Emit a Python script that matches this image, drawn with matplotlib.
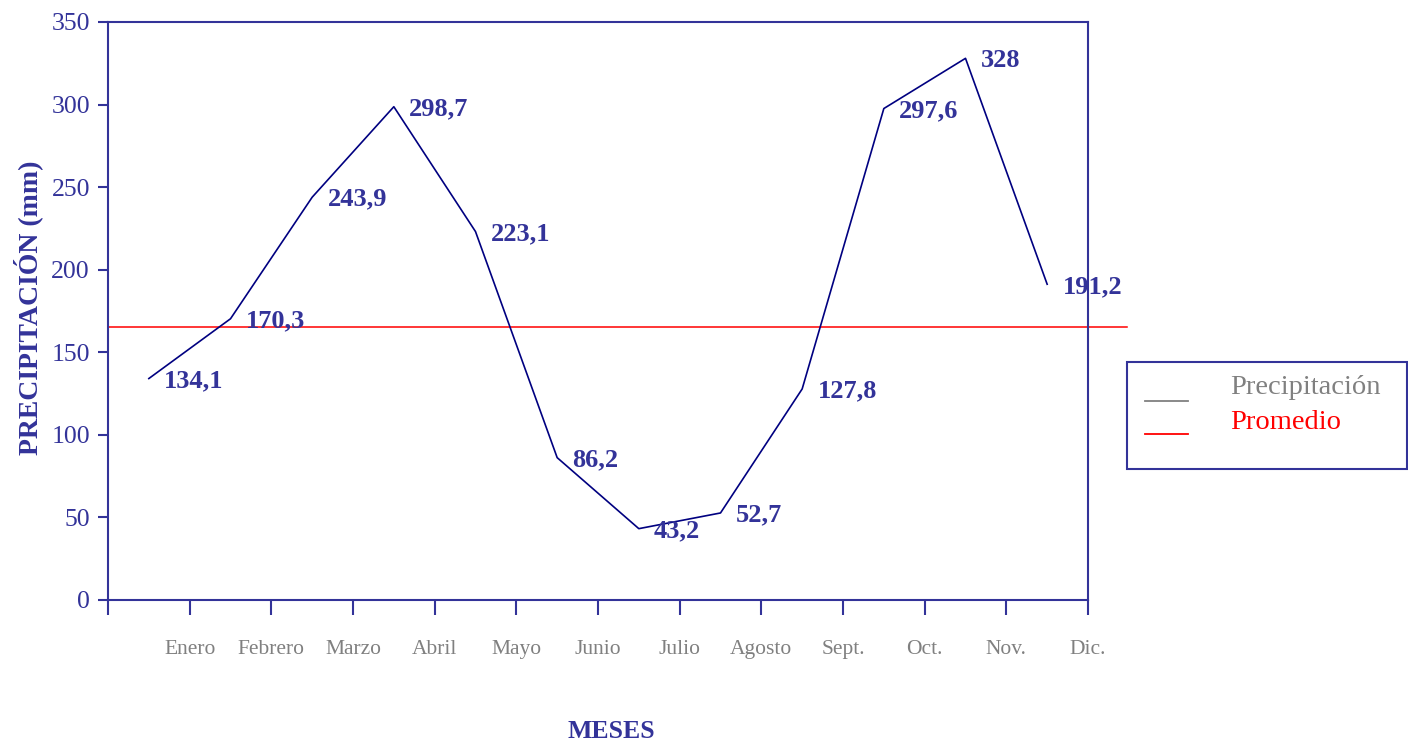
import matplotlib
matplotlib.use("Agg")
import matplotlib.pyplot as plt
from matplotlib.lines import Line2D
from matplotlib.patches import Rectangle

plt.rcParams["font.family"] = ["Liberation Serif", "DejaVu Serif"]

meses = ["Enero", "Febrero", "Marzo", "Abril", "Mayo", "Junio", "Julio",
         "Agosto", "Sept.", "Oct.", "Nov.", "Dic."]
precip = [134.1, 170.3, 243.9, 298.7, 223.1, 86.2, 43.2, 52.7, 127.8,
          297.6, 328.0, 191.2]
etiquetas = ["134,1", "170,3", "243,9", "298,7", "223,1", "86,2", "43,2",
             "52,7", "127,8", "297,6", "328", "191,2"]
promedio = 165.3

AXC = "#333399"
NAVY = "#000080"
GRIS = "#808080"

fig = plt.figure(figsize=(14.08, 7.44), dpi=100)
ax = fig.add_axes([108/1408, 1-600/744, 980/1408, 578/744])

xs = [i + 0.5 for i in range(len(precip))]
ax.plot(xs, precip, color=NAVY, lw=1.2)
for x, v, t in zip(xs, precip, etiquetas):
    ax.annotate(t, (x, v), textcoords="offset points", xytext=(11, -1.5),
                ha="left", va="center", fontsize=19, fontweight="bold",
                color=AXC)

ax.axhline(promedio, xmin=0, xmax=(1127-108)/980, color="red", lw=1.1,
           clip_on=False, zorder=1)

ax.set_xlim(0, 12)
ax.set_ylim(0, 350)
ax.set_yticks(range(0, 351, 50))
ax.set_xticks(range(0, 13))
ax.set_xticklabels([""] + meses)
for s in ax.spines.values():
    s.set_color(AXC)
    s.set_linewidth(1.5)
ax.tick_params(axis="y", direction="out", length=7, width=1.5, color=AXC,
               labelcolor=AXC, labelsize=18.5, pad=6)
ax.tick_params(axis="x", direction="out", length=11, width=1.5, color=AXC,
               labelcolor=GRIS, labelsize=15.5, pad=18)

fig.text(611/1408, 1-731/744, "MESES", ha="center", va="center",
         fontsize=18.5, fontweight="bold", color=AXC)
fig.text(28/1408, 1-308/744, "PRECIPITACIÓN (mm)", ha="center",
         va="center", rotation=90, fontsize=20, fontweight="bold", color=AXC)

# leyenda manual
fig.patches.append(Rectangle((1127/1408, 1-469/744), 280/1408, 107/744,
                             transform=fig.transFigure, fill=False,
                             edgecolor=AXC, lw=1.5))
fig.add_artist(Line2D([1145/1408, 1188/1408], [1-401/744, 1-401/744],
                      transform=fig.transFigure, color=GRIS, lw=1.3))
fig.add_artist(Line2D([1145/1408, 1188/1408], [1-434/744, 1-434/744],
                      transform=fig.transFigure, color="red", lw=1.3))
fig.text(1230/1408, 1-388/744, "Precipitación", ha="left", va="center",
         fontsize=20.5, color=GRIS)
fig.text(1230/1408, 1-422/744, "Promedio", ha="left", va="center",
         fontsize=20.5, color="red")

fig.savefig("out.png", dpi=100)
